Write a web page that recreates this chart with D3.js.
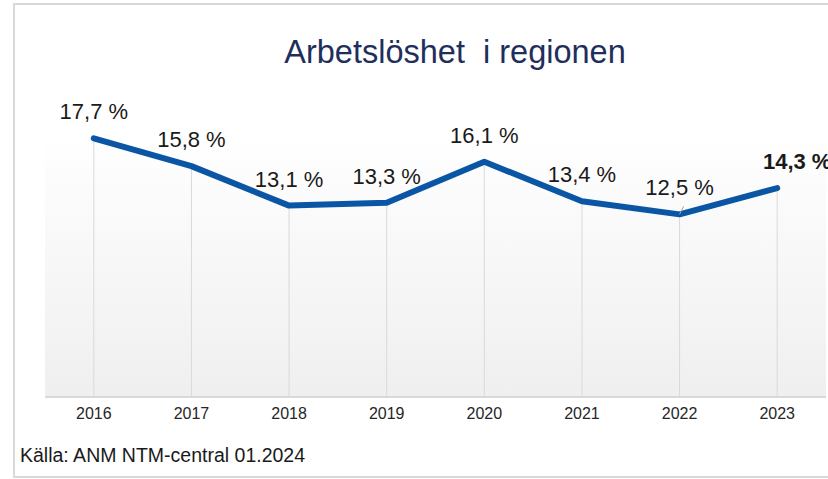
<!DOCTYPE html>
<meta charset="utf-8">
<html>
<head><title>Arbetslöshet i regionen</title></head>
<style>
body { margin: 0; background: #fff; }
text { font-family: "Liberation Sans", Arial, sans-serif; }
</style>
<body>
<svg id="chart" width="828" height="479"></svg>
<script src="https://d3js.org/d3.v7.min.js"></script>
<script>

// data
var years = ["2016", "2017", "2018", "2019", "2020", "2021", "2022", "2023"];
var rates = [17.7, 15.8, 13.1, 13.3, 16.1, 13.4, 12.5, 14.3];
var labels = ["17,7 %", "15,8 %", "13,1 %", "13,3 %", "16,1 %", "13,4 %", "12,5 %", "14,3 %"];

var svg = d3.select("#chart");

// outer frame
svg.append("rect")
  .attr("x", 14).attr("y", 4)
  .attr("width", 830).attr("height", 473)
  .attr("fill", "#fff")
  .attr("stroke", "#d9d9d9")
  .attr("stroke-width", 2);

// plot area
var plotLeft = 45, plotRight = 826, plotTop = 134, plotBottom = 397;

var x = d3.scaleBand()
  .domain(years)
  .range([plotLeft, plotRight]);

var y = d3.scaleLinear()
  .domain([0, 18])
  .range([plotBottom, plotTop]);

function cx(i) { return x(years[i]) + x.bandwidth() / 2; }

// gradient background
var grad = svg.append("defs").append("linearGradient")
  .attr("id", "bg")
  .attr("x1", 0).attr("y1", 0).attr("x2", 0).attr("y2", 1);
grad.append("stop").attr("offset", "0%").attr("stop-color", "#ffffff");
grad.append("stop").attr("offset", "100%").attr("stop-color", "#efefef");

svg.append("rect")
  .attr("x", plotLeft).attr("y", plotTop)
  .attr("width", plotRight - plotLeft).attr("height", plotBottom - plotTop)
  .attr("fill", "url(#bg)");

// drop lines
svg.append("g")
  .selectAll("line")
  .data(rates)
  .enter()
  .append("line")
  .attr("x1", function(d, i) { return cx(i); })
  .attr("x2", function(d, i) { return cx(i); })
  .attr("y1", function(d) { return y(d); })
  .attr("y2", plotBottom)
  .attr("stroke", "#d9d9d9")
  .attr("stroke-width", 1);

// baseline
svg.append("line")
  .attr("x1", plotLeft).attr("x2", plotRight)
  .attr("y1", plotBottom).attr("y2", plotBottom)
  .attr("stroke", "#d9d9d9")
  .attr("stroke-width", 2);

// x axis labels
var xAxis = svg.append("g")
  .attr("transform", "translate(0," + plotBottom + ")")
  .call(d3.axisBottom(x).tickSize(0).tickPadding(11));
xAxis.select(".domain").remove();
xAxis.selectAll("text")
  .style("font-family", "Liberation Sans, Arial, sans-serif")
  .style("font-size", "16px")
  .attr("fill", "#262626");

// line
var line = d3.line()
  .x(function(d, i) { return cx(i); })
  .y(function(d) { return y(d); });

svg.append("path")
  .datum(rates)
  .attr("d", line)
  .attr("fill", "none")
  .attr("stroke", "#0a56a5")
  .attr("stroke-width", 6)
  .attr("stroke-linejoin", "round")
  .attr("stroke-linecap", "round");

// small leader line at 2022
var i22 = years.indexOf("2022");
svg.append("line")
  .attr("x1", cx(i22))
  .attr("y1", y(rates[i22]))
  .attr("x2", cx(i22) + 4)
  .attr("y2", y(rates[i22]) - 8)
  .attr("stroke", "#a6a6a6")
  .attr("stroke-width", 1);

// value labels
var last = labels.length - 1;
svg.append("g")
  .selectAll("text")
  .data(labels)
  .enter()
  .append("text")
  .attr("x", function(d, i) { return i === last ? cx(i) + 20 : cx(i); })
  .attr("y", function(d, i) { return y(rates[i]) - 19; })
  .attr("text-anchor", "middle")
  .attr("font-size", "22px")
  .attr("font-weight", function(d, i) { return i === last ? "bold" : "normal"; })
  .attr("fill", "#1a1a1a")
  .text(function(d) { return d; });

// title
svg.append("text")
  .attr("x", 455).attr("y", 63)
  .attr("text-anchor", "middle")
  .attr("font-size", "32.5px")
  .attr("fill", "#1f2f5c")
  .attr("xml:space", "preserve")
  .text("Arbetslöshet  i regionen");

// source
svg.append("text")
  .attr("x", 20).attr("y", 462)
  .attr("font-size", "19.5px")
  .attr("fill", "#1a1a1a")
  .text("Källa: ANM NTM-central 01.2024");

</script>
</body>
</html>
